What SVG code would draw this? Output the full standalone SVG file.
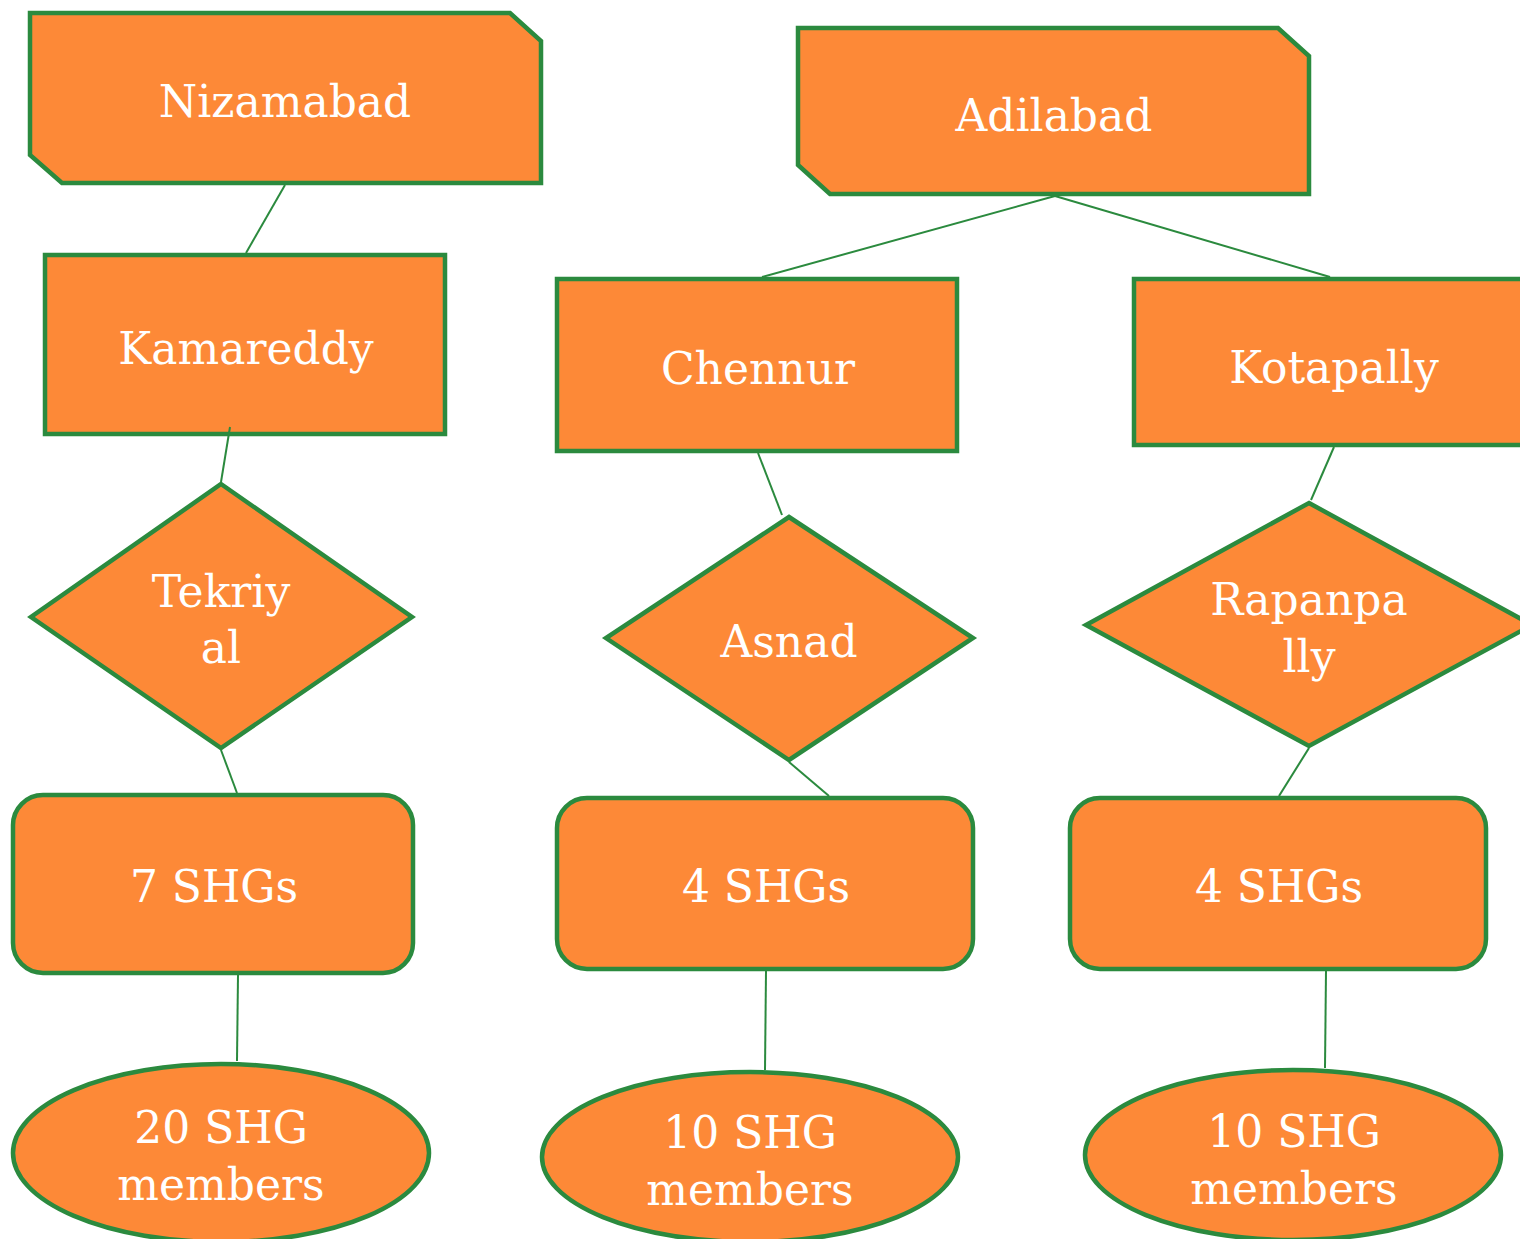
<svg xmlns="http://www.w3.org/2000/svg" width="1520" height="1239" viewBox="0 0 1520 1239">
<style>
.n{fill:#FD8937;stroke:#2B8A3E;stroke-width:4.5}
.t{fill:#ffffff;font-family:"DejaVu Serif","Liberation Serif",serif;font-size:44px;text-anchor:middle}
.c{stroke:#2B8A3E;stroke-width:2;fill:none}
</style>
<rect width="1520" height="1239" fill="#ffffff"/>
<g id="nizamabad">
<polygon class="n" points="30,13 510,13 541,41 541,183 62,183 30,155"/>
<text class="t" x="285" y="117">Nizamabad</text>
</g>
<g id="adilabad">
<polygon class="n" points="798,28 1278,28 1309,56 1309,194 830,194 798,165"/>
<text class="t" x="1054" y="131">Adilabad</text>
</g>
<g id="kamareddy">
<rect class="n" x="45" y="255" width="400" height="179"/>
<text class="t" x="246" y="364">Kamareddy</text>
</g>
<g id="chennur">
<rect class="n" x="557" y="279" width="400" height="172"/>
<text class="t" x="758" y="384">Chennur</text>
</g>
<g id="kotapally">
<rect class="n" x="1134" y="279" width="400" height="166"/>
<text class="t" x="1334" y="383">Kotapally</text>
</g>
<g id="tekriyal">
<polygon class="n" points="221,484 412,617 221,748 31,617"/>
<text class="t" x="221" y="607">Tekriy</text>
<text class="t" x="221" y="663">al</text>
</g>
<g id="asnad">
<polygon class="n" points="789,517 973,638 789,760 606,638"/>
<text class="t" x="789" y="657">Asnad</text>
</g>
<g id="rapanpally">
<polygon class="n" points="1309,503 1532,625 1309,746 1086,625"/>
<text class="t" x="1309" y="615">Rapanpa</text>
<text class="t" x="1309" y="672">lly</text>
</g>
<g id="shg7">
<rect class="n" x="13" y="795" width="400" height="178" rx="30"/>
<text class="t" x="214" y="902">7 SHGs</text>
</g>
<g id="shg4a">
<rect class="n" x="557" y="798" width="416" height="171" rx="30"/>
<text class="t" x="766" y="902">4 SHGs</text>
</g>
<g id="shg4b">
<rect class="n" x="1070" y="798" width="416" height="171" rx="30"/>
<text class="t" x="1279" y="902">4 SHGs</text>
</g>
<g id="members20">
<ellipse class="n" cx="221" cy="1153" rx="208" ry="89"/>
<text class="t" x="221" y="1143">20 SHG</text>
<text class="t" x="221" y="1200">members</text>
</g>
<g id="members10a">
<ellipse class="n" cx="750" cy="1157" rx="208" ry="85"/>
<text class="t" x="750" y="1148">10 SHG</text>
<text class="t" x="750" y="1205">members</text>
</g>
<g id="members10b">
<ellipse class="n" cx="1293" cy="1155" rx="208" ry="85"/>
<text class="t" x="1294" y="1147">10 SHG</text>
<text class="t" x="1294" y="1204">members</text>
</g>
<g id="connectors">
<line class="c" x1="285" y1="185" x2="246" y2="253"/>
<line class="c" x1="230" y1="427" x2="221" y2="482"/>
<line class="c" x1="221" y1="750" x2="237" y2="793"/>
<line class="c" x1="238" y1="975" x2="237" y2="1061"/>
<line class="c" x1="1055" y1="196" x2="762" y2="277"/>
<line class="c" x1="1055" y1="196" x2="1330" y2="277"/>
<line class="c" x1="758" y1="453" x2="782" y2="515"/>
<line class="c" x1="789" y1="762" x2="829" y2="796"/>
<line class="c" x1="766" y1="971" x2="765" y2="1070"/>
<line class="c" x1="1334" y1="447" x2="1311" y2="500"/>
<line class="c" x1="1309" y1="748" x2="1279" y2="796"/>
<line class="c" x1="1326" y1="971" x2="1325" y2="1068"/>
</g>
</svg>
